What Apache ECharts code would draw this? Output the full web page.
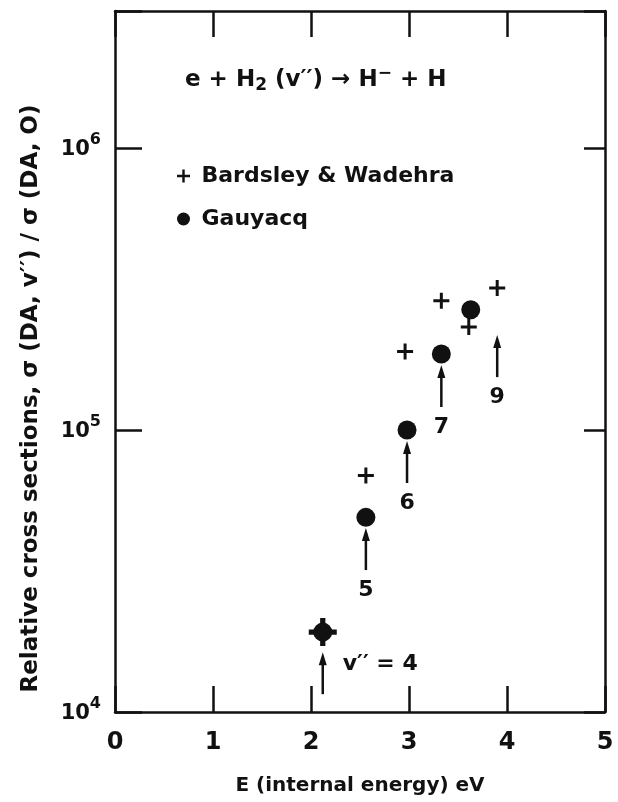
<!DOCTYPE html>
<html>
<head>
<meta charset="utf-8">
<script src="https://cdn.jsdelivr.net/npm/echarts@6.0.0/dist/echarts.min.js"></script>
<style>
  html, body { margin: 0; padding: 0; background: #fff; }
  #chart { width: 618px; height: 802px; }
</style>
</head>
<body>
<div id="chart"></div>
<script>
// Bardsley & Wadehra (crosses): internal energy in eV, relative cross section
const bwEnergy = [2.12, 2.56, 2.96, 3.33, 3.61, 3.90];
const bwValue  = [1.92e4, 6.9e4, 1.9e5, 2.87e5, 2.32e5, 3.19e5];

// Gauyacq (filled circles)
const gEnergy = [2.12, 2.56, 2.98, 3.33, 3.63];
const gValue  = [1.92e4, 4.9e4, 1.0e5, 1.86e5, 2.67e5];

// Vibrational level markers: upward arrows, tip value on the cross-section scale
const levelNames    = ['v\u2032\u2032 = 4', '5', '6', '7', '9'];
const levelEnergy   = [2.12, 2.56, 2.98, 3.33, 3.90];
const levelArrowTip = [1.63e4, 4.49e4, 9.14e4, 1.70e5, 2.17e5];

// Axis ranges
const xRange = [0, 5];
const yRange = [1e4, 3.06e6];

const FONT = 'DejaVu Sans';
const INK = '#111';
const PLUS = 'path://M0,6.5h6.5v-6.5h3v6.5h6.5v3h-6.5v6.5h-3v-6.5h-6.5z';

const zip = (a, b) => a.map((v, i) => [v, b[i]]);

const frameLine = { onZero: false, lineStyle: { color: INK, width: 2.5 } };
const tickStyle = { color: INK, width: 2.5 };

const chart = echarts.init(document.getElementById('chart'), null, { renderer: 'canvas' });

const option = {
  animation: false,
  backgroundColor: '#fff',
  textStyle: { fontFamily: FONT, color: INK },
  title: {
    text: 'e + H{sub|2} (v\u2032\u2032) \u2192 H{sup|\u2212} + H',
    left: 180,
    top: 60,
    textStyle: {
      fontFamily: FONT, fontWeight: 'bold', fontSize: 23, color: INK,
      rich: {
        sub: { fontFamily: FONT, fontWeight: 'bold', fontSize: 17, padding: [12, 0, 0, 0] },
        sup: { fontFamily: FONT, fontWeight: 'bold', fontSize: 17, padding: [0, 0, 13, 0] }
      }
    }
  },
  legend: {
    orient: 'vertical',
    left: 172,
    top: 158,
    itemWidth: 26,
    itemHeight: 13,
    itemGap: 17,
    selectedMode: false,
    textStyle: { fontFamily: FONT, fontWeight: 'bold', fontSize: 22, lineHeight: 26, color: INK },
    data: [
      { name: 'Bardsley & Wadehra', icon: PLUS },
      { name: 'Gauyacq', icon: 'circle' }
    ]
  },
  grid: { left: 115, right: 13, top: 11, bottom: 90 },
  xAxis: [
    {
      type: 'value', min: xRange[0], max: xRange[1], interval: 1, position: 'bottom',
      axisLine: frameLine,
      axisTick: { inside: true, length: 26, lineStyle: tickStyle },
      axisLabel: { margin: 19, fontSize: 24, fontWeight: 'bold', color: INK, fontFamily: FONT },
      splitLine: { show: false },
      name: 'E (internal energy) eV',
      nameLocation: 'middle',
      nameGap: 64,
      nameTextStyle: { fontFamily: FONT, fontSize: 20, fontWeight: 'bold', color: INK }
    },
    {
      type: 'value', min: xRange[0], max: xRange[1], interval: 1, position: 'top',
      axisLine: frameLine,
      axisTick: { inside: true, length: 26, lineStyle: tickStyle },
      axisLabel: { show: false },
      splitLine: { show: false }
    }
  ],
  yAxis: [
    {
      type: 'log', logBase: 10, min: yRange[0], max: yRange[1], position: 'left',
      axisLine: frameLine,
      axisTick: { inside: true, length: 27, lineStyle: tickStyle },
      splitLine: { show: false },
      minorTick: { show: false },
      axisLabel: {
        margin: 14,
        color: INK,
        formatter: function (v) {
          const e = Math.log10(v);
          const n = Math.round(e);
          if (Math.abs(e - n) > 1e-6) return '';
          return '{b|10}{s|' + n + '}';
        },
        rich: {
          b: { fontFamily: FONT, fontWeight: 'bold', fontSize: 21, color: INK, padding: [4, 0, 0, 0] },
          s: { fontFamily: FONT, fontWeight: 'bold', fontSize: 16, color: INK, padding: [0, 0, 16, 0] }
        }
      },
      name: 'Relative cross sections, \u03c3 (DA, v\u2032\u2032) / \u03c3 (DA, O)',
      nameLocation: 'middle',
      nameGap: 72,
      nameTextStyle: { fontFamily: FONT, fontSize: 23, fontWeight: 'bold', color: INK, padding: [0, 74, 0, 0] }
    },
    {
      type: 'log', logBase: 10, min: yRange[0], max: yRange[1], position: 'right',
      axisLine: frameLine,
      axisTick: { inside: true, length: 21, lineStyle: tickStyle },
      axisLabel: { show: false },
      splitLine: { show: false },
      minorTick: { show: false }
    }
  ],
  series: [
    {
      name: 'Bardsley & Wadehra',
      type: 'scatter',
      symbol: PLUS,
      symbolSize: function (val, params) { return params.dataIndex === 0 ? 28 : 16; },
      itemStyle: { color: INK, opacity: 1 },
      data: zip(bwEnergy, bwValue),
      z: 3
    },
    {
      name: 'Gauyacq',
      type: 'scatter',
      symbol: 'circle',
      symbolSize: 19,
      itemStyle: { color: INK, opacity: 1 },
      data: zip(gEnergy, gValue),
      z: 4
    },
    {
      name: 'levels',
      type: 'custom',
      data: levelEnergy.map((e, i) => [e, levelArrowTip[i], i]),
      z: 5,
      renderItem: function (params, api) {
        const p = api.coord([api.value(0), api.value(1)]);
        const i = api.value(2);
        const len = 42, head = 13, hw = 4;
        const label = levelNames[i];
        const first = i === 0;
        return {
          type: 'group',
          children: [
            {
              type: 'line',
              shape: { x1: p[0], y1: p[1] + head - 2, x2: p[0], y2: p[1] + len },
              style: { stroke: INK, lineWidth: 2.5 }
            },
            {
              type: 'polygon',
              shape: { points: [[p[0], p[1]], [p[0] - hw, p[1] + head], [p[0] + hw, p[1] + head]] },
              style: { fill: INK }
            },
            {
              type: 'text',
              style: {
                text: label,
                x: first ? p[0] + 20 : p[0],
                y: first ? p[1] + 12 : p[1] + 62,
                fill: INK,
                fontFamily: FONT,
                fontWeight: 'bold',
                fontSize: 22,
                align: first ? 'left' : 'center',
                verticalAlign: 'middle'
              }
            }
          ]
        };
      }
    }
  ]
};

chart.setOption(option);
</script>
</body>
</html>
